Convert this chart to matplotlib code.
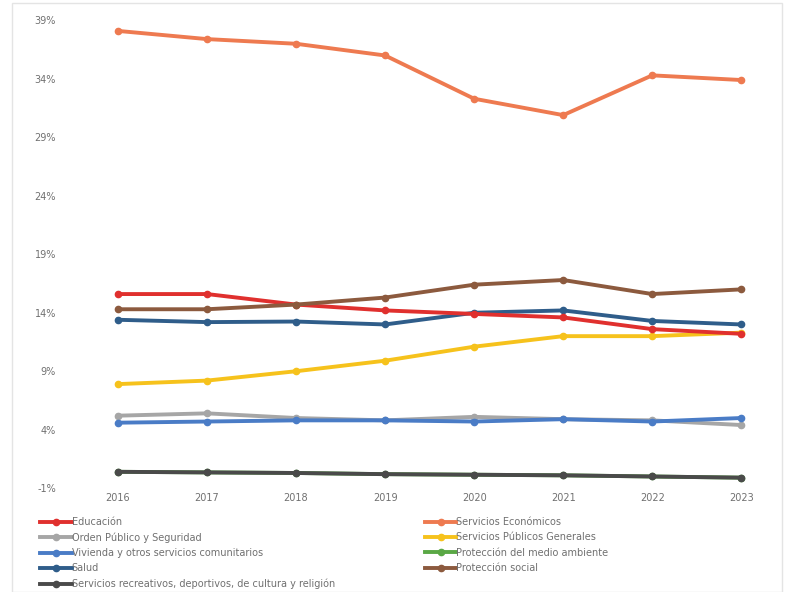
import matplotlib
matplotlib.use('Agg')
import matplotlib.pyplot as plt
from matplotlib.ticker import FuncFormatter

years = ['2016', '2017', '2018', '2019', '2020', '2021', '2022', '2023']

educacion = [15.6, 15.6, 14.7, 14.2, 13.9, 13.6, 12.6, 12.2]
orden_publico = [5.2, 5.4, 5.0, 4.8, 5.1, 4.9, 4.8, 4.4]
vivienda = [4.6, 4.7, 4.8, 4.8, 4.7, 4.9, 4.7, 5.0]
salud = [13.4, 13.2, 13.25, 13.0, 14.0, 14.2, 13.3, 13.0]
recreativos = [0.4, 0.35, 0.3, 0.2, 0.15, 0.1, 0.0, -0.1]
economicos = [38.1, 37.4, 37.0, 36.0, 32.3, 30.9, 34.3, 33.9]
publicos_generales = [7.9, 8.2, 9.0, 9.9, 11.1, 12.0, 12.0, 12.3]
medio_ambiente = [0.4, 0.35, 0.3, 0.2, 0.15, 0.1, 0.0, -0.1]
proteccion_social = [14.3, 14.3, 14.7, 15.3, 16.4, 16.8, 15.6, 16.0]

yticks = [39, 34, 29, 24, 19, 14, 9, 4, -1]

series = [
    ('Educación', educacion, '#e0302e'),
    ('Orden Público y Seguridad', orden_publico, '#a6a6a6'),
    ('Vivienda y otros servicios comunitarios', vivienda, '#4a7cc6'),
    ('Salud', salud, '#2f5d8a'),
    ('Servicios recreativos, deportivos, de cultura y religión', recreativos, '#4a4a4a'),
    ('Servicios Económicos', economicos, '#ee7a50'),
    ('Servicios Públicos Generales', publicos_generales, '#f6c21c'),
    ('Protección del medio ambiente', medio_ambiente, '#5aa845'),
    ('Protección social', proteccion_social, '#8c5a3e'),
]

# green one is hidden behind the dark grey line in the original
zorders = [5, 3, 4, 4, 6, 5, 4, 2, 5]

fig = plt.figure(figsize=(7.9, 5.92), dpi=100)
ax = fig.add_axes([0.120, 0.172, 0.842, 0.807])

x = range(len(years))
for (name, vals, col), z in zip(series, zorders):
    ax.plot(x, vals, color=col, lw=2.8, marker='o', ms=4.5, label=name, zorder=z)

ax.set_xlim(-0.26, 7.21)
ax.set_ylim(-1.17, 39.68)
ax.set_xticks(list(x))
ax.set_xticklabels(years)
ax.set_yticks(yticks)
ax.yaxis.set_major_formatter(FuncFormatter(lambda v, p: '%d%%' % v))
ax.tick_params(length=0, labelsize=7, colors='#707070')
ax.tick_params(axis='y', pad=28)
ax.tick_params(axis='x', pad=2)
for s in ax.spines.values():
    s.set_visible(False)

handles, labels = ax.get_legend_handles_labels()
fig.legend(handles, labels, ncol=2, loc='upper left', bbox_to_anchor=(0.045, 0.135),
           frameon=False, fontsize=7, labelcolor='#707070', handlelength=3.2,
           handletextpad=0.0, labelspacing=0.55, columnspacing=9.3, borderpad=0)

fig.patches.append(plt.Rectangle((0.015, 0.0), 0.975, 0.995, transform=fig.transFigure,
                                 fill=False, edgecolor='#e4e4e4', lw=1))

plt.savefig('out.png', dpi=100)
